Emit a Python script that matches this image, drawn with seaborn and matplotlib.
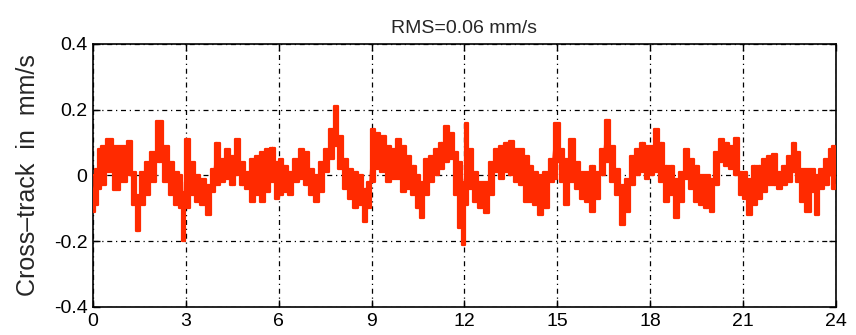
import numpy as np
import pandas as pd
import matplotlib
matplotlib.use("Agg")
import matplotlib.pyplot as plt
import seaborn as sns

# Time (hours) and upper / lower envelope of the noisy cross-track signal (mm/s)
hours = [0.0, 0.1, 0.2, 0.3, 0.55, 0.75, 0.97, 1.2, 1.35, 1.45, 1.6, 1.77, 1.93, 2.15, 2.37, 2.53, 2.7, 2.85, 2.92, 3.0,
         3.05, 3.2, 3.38, 3.55, 3.75, 3.86, 4.0, 4.18, 4.35, 4.5, 4.65, 4.83, 5.0, 5.15, 5.3, 5.47, 5.63, 5.8, 5.96,
         6.05, 6.2, 6.37, 6.53, 6.75, 6.9, 7.07, 7.23, 7.4, 7.55, 7.7, 7.85, 8.0, 8.15, 8.3, 8.47, 8.63, 8.8, 8.9,
         9.05, 9.2, 9.37, 9.53, 9.7, 9.86, 10.02, 10.18, 10.35, 10.5, 10.6, 10.77, 10.93, 11.1, 11.26, 11.42, 11.58,
         11.75, 11.85, 11.96,
         12.05, 12.2, 12.37, 12.53, 12.7, 12.86, 13.02, 13.18, 13.35, 13.5, 13.67, 13.83, 14.0, 14.15, 14.3, 14.47,
         14.63, 14.8, 14.96,
         15.05, 15.15, 15.3, 15.48, 15.65, 15.8, 15.97, 16.13, 16.3, 16.45, 16.6, 16.77, 16.93, 17.1, 17.26, 17.42,
         17.58, 17.75, 17.9,
         18.05, 18.2, 18.37, 18.53, 18.7, 18.86, 19.02, 19.18, 19.35, 19.5, 19.67, 19.83, 20.0, 20.15, 20.3, 20.47,
         20.63, 20.8, 20.96,
         21.05, 21.2, 21.37, 21.53, 21.7, 21.86, 22.02, 22.18, 22.35, 22.5, 22.63, 22.77, 22.93, 23.1, 23.26, 23.37,
         23.53, 23.7, 23.83, 23.92, 24.0]

upper = [0.0, 0.02, 0.08, 0.09, 0.11, 0.09, 0.09, 0.105, 0.01, -0.06, 0.01, 0.04, 0.07, 0.165, 0.09, 0.04, 0.01, 0.0, -0.05, 0.11,
         0.11, 0.04, 0.0, -0.01, -0.03, 0.02, 0.1, 0.05, 0.08, 0.06, 0.11, 0.04, 0.01, 0.05, 0.06, 0.07, 0.08, 0.085, 0.04,
         0.05, 0.03, 0.01, 0.05, 0.08, 0.07, 0.02, 0.0, 0.04, 0.08, 0.14, 0.21, 0.12, 0.05, 0.02, 0.01, 0.0, -0.04, -0.02,
         0.14, 0.13, 0.12, 0.09, 0.08, 0.11, 0.09, 0.06, 0.03, 0.0, -0.02, 0.05, 0.06, 0.08, 0.1, 0.15, 0.13,
         0.07, 0.04, -0.02,
         0.16, 0.08, 0.01, -0.02, -0.02, 0.04, 0.08, 0.09, 0.1, 0.105, 0.08, 0.08, 0.06, 0.03, 0.01, 0.0,
         0.01, 0.05, 0.16,
         0.16, 0.08, 0.05, 0.11, 0.04, 0.01, 0.01, 0.03, 0.01, 0.08, 0.17, 0.09, 0.02, -0.03, -0.01, 0.06,
         0.08, 0.1, 0.09,
         0.09, 0.14, 0.1, 0.03, 0.03, -0.01, 0.01, 0.08, 0.05, 0.03, 0.0, 0.0, -0.01, 0.07, 0.11, 0.1,
         0.09, 0.115, 0.01,
         0.01, -0.01, 0.03, 0.03, 0.05, 0.06, 0.065, 0.01, 0.03, 0.06, 0.1, 0.07, 0.02, 0.02, 0.02, 0.0,
         0.02, 0.05, 0.08, 0.09, 0.06]

lower = [-0.11, -0.09, -0.04, -0.03, 0.01, -0.045, -0.02, 0.0, -0.09, -0.17, -0.09, -0.06, -0.02, 0.04, -0.02, -0.06, -0.09, -0.1, -0.2, -0.02,
         -0.1, -0.06, -0.08, -0.09, -0.12, -0.05, -0.03, -0.02, -0.01, -0.03, 0.0, -0.03, -0.04, -0.08, -0.06, -0.08, -0.05, -0.02, -0.07,
         -0.06, -0.05, -0.06, -0.02, -0.01, -0.03, -0.06, -0.08, -0.05, 0.01, 0.05, 0.09, 0.02, -0.04, -0.07, -0.1, -0.09, -0.14, -0.1,
         -0.02, 0.02, 0.01, -0.02, -0.01, -0.01, -0.05, -0.04, -0.06, -0.1, -0.13, -0.06, -0.02, 0.0, 0.02, 0.04, 0.05,
         -0.06, -0.16, -0.21,
         -0.09, -0.04, -0.08, -0.1, -0.115, -0.06, 0.01, -0.01, 0.01, 0.0, -0.02, -0.03, -0.08, -0.08, -0.09, -0.12,
         -0.1, -0.02, -0.01,
         0.04, -0.02, -0.09, -0.02, -0.04, -0.07, -0.08, -0.11, -0.07, 0.0, 0.04, -0.02, -0.06, -0.15, -0.11, -0.03,
         0.0, 0.01, -0.01,
         0.0, 0.01, -0.02, -0.08, -0.06, -0.13, -0.08, -0.01, -0.04, -0.08, -0.09, -0.1, -0.11, -0.03, 0.04, 0.03,
         0.02, 0.0, -0.06,
         -0.07, -0.12, -0.09, -0.07, -0.05, -0.03, -0.03, -0.04, -0.03, -0.02, 0.01, -0.02, -0.08, -0.11, -0.05, -0.12,
         -0.04, -0.03, 0.0, -0.04, -0.03]

x_ticks = [0, 3, 6, 9, 12, 15, 18, 21, 24]
y_ticks = [-0.4, -0.2, 0.0, 0.2, 0.4]
y_tick_labels = ["-0.4", "-0.2", "0", "0.2", "0.4"]
title = "RMS=0.06 mm/s"
ylabel = "Cross\u2013track  in  mm/s"

RED = "#ff2a00"

# Interleave upper and lower readings to form the jagged trace
xs, ys = [], []
for h, u, l in zip(hours, upper, lower):
    xs += [h, h]
    ys += [u, l]
df = pd.DataFrame({"t": xs, "v": ys})
env = pd.DataFrame({"t": hours, "up": upper, "lo": lower})

sns.set_theme(style="white")
plt.rcParams["font.family"] = ["Liberation Sans", "DejaVu Sans"]

fig = plt.figure(figsize=(8.56, 3.35), dpi=100)
ax = fig.add_axes([0.1086, 0.0836, 0.868, 0.7851])

ax.fill_between(env["t"], env["lo"], env["up"], step="mid", color=RED, linewidth=0, zorder=2)
sns.lineplot(data=df, x="t", y="v", sort=False, estimator=None,
             color=RED, linewidth=1.2, ax=ax, zorder=3)
sns.lineplot(data=env, x="t", y="up", sort=False, estimator=None, drawstyle="steps-mid",
             color=RED, linewidth=1.6, ax=ax, zorder=3)
sns.lineplot(data=env, x="t", y="lo", sort=False, estimator=None, drawstyle="steps-mid",
             color=RED, linewidth=1.6, ax=ax, zorder=3)

ax.set_xlim(0, 24)
ax.set_ylim(-0.4, 0.4)
ax.set_xticks(x_ticks)
ax.set_xticklabels([str(v) for v in x_ticks])
ax.set_yticks(y_ticks)
ax.set_yticklabels(y_tick_labels)
ax.grid(True, color="black", linestyle=(0, (4, 3, 1, 3)), linewidth=0.9)
ax.set_axisbelow(True)
for s in ax.spines.values():
    s.set_color("black")
    s.set_linewidth(1.2)
ax.tick_params(direction="in", length=5, width=1, colors="black", labelsize=14,
               top=True, right=True, left=True, bottom=True, pad=4)
ax.set_xlabel("")
ax.set_ylabel(ylabel, fontsize=18)
ax.yaxis.set_label_coords(-0.071, 0.5)
ax.set_title(title, fontsize=14, pad=8)

fig.savefig("out.png", dpi=100)
